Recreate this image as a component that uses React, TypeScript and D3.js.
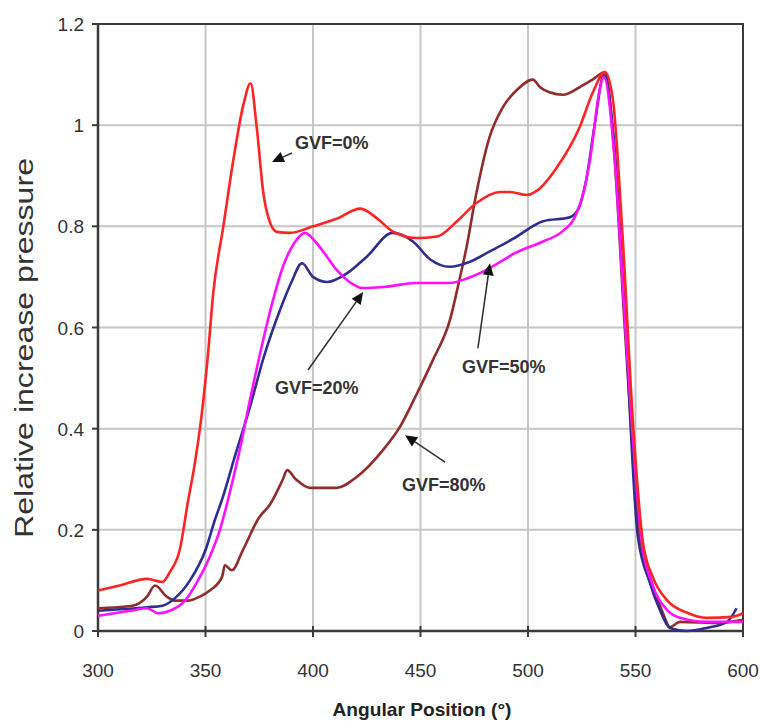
import React from "react";
import * as d3 from "d3";

// ---- Data ----
const xTicks = [300, 350, 400, 450, 500, 550, 600];
const yTicks = [0, 0.2, 0.4, 0.6, 0.8, 1, 1.2];
const yTickLabels = ["0", "0.2", "0.4", "0.6", "0.8", "1", "1.2"];

// GVF = 0% (red)
const redX = [300, 310, 322.8, 330, 333.5, 338, 342, 345, 348, 351, 353.6, 358.3, 362.9, 367.6, 371, 373.8, 376.9, 379.2, 383.1, 389.3, 400, 411, 422, 430, 437, 448, 457.7, 467, 476, 487, 491.6, 499.5, 504, 513.5, 524, 530, 535.8, 539.5, 544, 549, 553.5, 558, 564.6, 574, 583, 595, 600];
const redY = [0.08, 0.09, 0.103, 0.097, 0.117, 0.16, 0.26, 0.33, 0.42, 0.54, 0.668, 0.8, 0.93, 1.04, 1.083, 0.997, 0.866, 0.818, 0.789, 0.787, 0.8, 0.815, 0.835, 0.815, 0.79, 0.777, 0.78, 0.81, 0.846, 0.868, 0.868, 0.862, 0.87, 0.917, 0.996, 1.063, 1.105, 1.05, 0.78, 0.4, 0.174, 0.107, 0.061, 0.036, 0.026, 0.028, 0.035];

// Navy series
const blueX = [300, 322.8, 330, 335.8, 342.8, 350, 354.4, 357.7, 364, 370.7, 377, 384.7, 390, 394.9, 400, 406.5, 415, 425, 437, 446.5, 454.4, 463.7, 473, 482, 493, 507, 519.5, 523.5, 527, 531, 535.3, 540, 545, 551, 556.7, 561.4, 566, 574, 583, 592.6, 597];
const blueY = [0.04, 0.047, 0.05, 0.065, 0.1, 0.16, 0.22, 0.26, 0.35, 0.443, 0.54, 0.635, 0.69, 0.727, 0.7, 0.69, 0.705, 0.74, 0.787, 0.77, 0.735, 0.72, 0.73, 0.75, 0.775, 0.81, 0.818, 0.835, 0.89, 1.0, 1.1, 0.97, 0.63, 0.19, 0.095, 0.041, 0.006, 0.0, 0.006, 0.018, 0.045];

// Magenta series
const magX = [300, 315, 322.8, 327.9, 333.5, 340.5, 347.4, 352, 356.7, 360.5, 366, 370.7, 376, 381.4, 386, 391, 396.3, 401, 406.5, 411, 417, 423, 432.6, 448, 463.7, 471.6, 482, 488.4, 493, 507, 516, 522, 526, 529.5, 532.5, 535.3, 540, 545, 553, 558, 564.6, 570.7, 583, 600];
const magY = [0.03, 0.04, 0.045, 0.035, 0.04, 0.06, 0.107, 0.147, 0.2, 0.26, 0.36, 0.457, 0.56, 0.654, 0.72, 0.765, 0.787, 0.77, 0.74, 0.714, 0.69, 0.678, 0.68, 0.688, 0.688, 0.697, 0.717, 0.733, 0.745, 0.77, 0.79, 0.82, 0.87, 0.95, 1.05, 1.095, 0.95, 0.62, 0.174, 0.09, 0.042, 0.026, 0.018, 0.018];

// GVF = 80% (brown)
const brownX = [300, 316, 322.8, 326.5, 332, 335.8, 341.4, 347.4, 352, 357.7, 359, 362.3, 367.4, 375, 380, 386, 388, 392, 398.6, 411, 420.5, 432.6, 440.5, 448.4, 455.8, 463.7, 468.4, 471, 476, 482, 488.4, 494.9, 502.3, 505.6, 510, 516.3, 524, 530, 535.8, 540, 545, 552, 556.7, 562.8, 566, 570.7, 589, 600];
const brownY = [0.045, 0.05, 0.068, 0.09, 0.068, 0.06, 0.06, 0.068, 0.08, 0.107, 0.13, 0.12, 0.16, 0.225, 0.25, 0.3, 0.318, 0.3, 0.283, 0.283, 0.305, 0.358, 0.404, 0.47, 0.536, 0.615, 0.7, 0.75, 0.866, 0.975, 1.036, 1.07, 1.09, 1.075, 1.065, 1.06, 1.075, 1.09, 1.105, 0.95, 0.6, 0.19, 0.107, 0.035, 0.008, 0.018, 0.016, 0.022];

const seriesNames = ["brown", "blue", "magenta", "red"];
const seriesColors = ["#8f2d2d", "#2e2e8c", "#ff10ff", "#ff2424"];
const seriesXs = [brownX, blueX, magX, redX];
const seriesYs = [brownY, blueY, magY, redY];

// Annotations (in data coordinates)
const annLabels = ["GVF=0%", "GVF=20%", "GVF=50%", "GVF=80%"];
const annTextX = [391.6, 382.3, 469.3, 441.4];
const annTextY = [0.952, 0.468, 0.51, 0.276];
const annTailX = [390.2, 397.7, 476.7, 461.4];
const annTailY = [0.945, 0.516, 0.559, 0.334];
const annHeadX = [380.9, 423.3, 482.3, 442.8];
const annHeadY = [0.927, 0.67, 0.727, 0.387];

export default function App() {
  const W = 762;
  const H = 724;
  const x = d3.scaleLinear().domain([300, 600]).range([98, 743]);
  const y = d3.scaleLinear().domain([0, 1.2]).range([631, 24]);

  const line = d3
    .line<[number, number]>()
    .x((d) => x(d[0]))
    .y((d) => y(d[1]))
    .curve(d3.curveMonotoneX);

  const font = "'Liberation Sans', Arial, sans-serif";
  const axisColor = "#3a3a3a";
  const gridColor = "#c6c6c6";

  const arrows = annLabels.map((lab, i) => {
    const x1 = x(annTailX[i]);
    const y1 = y(annTailY[i]);
    const x2 = x(annHeadX[i]);
    const y2 = y(annHeadY[i]);
    const ang = Math.atan2(y2 - y1, x2 - x1);
    const hl = 12;
    const hw = 5.5;
    const bx = x2 - hl * Math.cos(ang);
    const by = y2 - hl * Math.sin(ang);
    const px = -Math.sin(ang) * hw;
    const py = Math.cos(ang) * hw;
    return { lab, x1, y1, x2, y2, bx, by, px, py, i };
  });

  return (
    <svg
      width={W}
      height={H}
      style={{ position: "absolute", left: 0, top: 0, background: "#fff" }}
      fontFamily={font}
    >
      <rect x={0} y={0} width={W} height={H} fill="#fff" />
      {/* grid */}
      {yTicks.map((t) => (
        <line key={"gy" + t} x1={x(300)} x2={x(600)} y1={y(t)} y2={y(t)} stroke={gridColor} strokeWidth={2} />
      ))}
      {xTicks.map((t) => (
        <line key={"gx" + t} x1={x(t)} x2={x(t)} y1={y(0)} y2={y(1.2)} stroke={gridColor} strokeWidth={2} />
      ))}
      {/* frame */}
      <rect x={x(300)} y={y(1.2)} width={x(600) - x(300)} height={y(0) - y(1.2)} fill="none" stroke={axisColor} strokeWidth={2} />
      <line x1={x(300)} x2={x(300)} y1={y(0)} y2={y(1.2)} stroke={axisColor} strokeWidth={2.5} />
      <line x1={x(300)} x2={x(600)} y1={y(0)} y2={y(0)} stroke={axisColor} strokeWidth={2.5} />

      {/* series */}
      {seriesNames.map((n, si) => {
        const pts: [number, number][] = seriesXs[si].map((xv, k) => [xv, seriesYs[si][k]]);
        return (
          <path key={n} d={line(pts) || ""} fill="none" stroke={seriesColors[si]} strokeWidth={2.6} strokeLinejoin="round" />
        );
      })}

      {/* y ticks */}
      {yTicks.map((t, i) => (
        <g key={"yt" + t}>
          <line x1={x(300) - 6} x2={x(300)} y1={y(t)} y2={y(t)} stroke={axisColor} strokeWidth={2} />
          <text x={84} y={y(t) + 7} textAnchor="end" fontSize={19} fill="#333">
            {yTickLabels[i]}
          </text>
        </g>
      ))}
      {/* x ticks */}
      {xTicks.map((t) => (
        <g key={"xt" + t}>
          <line x1={x(t)} x2={x(t)} y1={y(0) - 5} y2={y(0) + 6} stroke={axisColor} strokeWidth={2} />
          <text x={x(t)} y={677} textAnchor="middle" fontSize={19} fill="#333">
            {t}
          </text>
        </g>
      ))}

      {/* axis titles */}
      <text
        transform="translate(33,348) rotate(-90)"
        textAnchor="middle"
        fontSize={26}
        fill="#333"
        textLength={380}
        lengthAdjust="spacingAndGlyphs"
      >
        Relative increase pressure
      </text>
      <text x={422} y={716} textAnchor="middle" fontSize={19} fontWeight="bold" fill="#222" textLength={179} lengthAdjust="spacingAndGlyphs">
        Angular Position (°)
      </text>

      {/* annotations */}
      {arrows.map((a) => (
        <g key={a.lab}>
          <line x1={a.x1} y1={a.y1} x2={a.bx} y2={a.by} stroke="#333" strokeWidth={1.6} />
          <polygon
            points={`${a.x2},${a.y2} ${a.bx + a.px},${a.by + a.py} ${a.bx - a.px},${a.by - a.py}`}
            fill="#111"
          />
          <text x={x(annTextX[a.i])} y={y(annTextY[a.i])} fontSize={18} fontWeight="bold" fill="#333">
            {a.lab}
          </text>
        </g>
      ))}
    </svg>
  );
}
